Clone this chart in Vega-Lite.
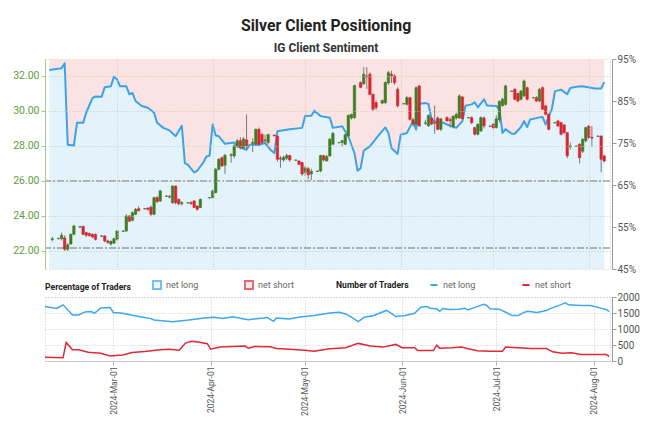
{
  "$schema": "https://vega.github.io/schema/vega-lite/v6.json",
  "background": "white",
  "padding": {"left": 12, "top": 17, "right": 5, "bottom": 0},
  "title": {
    "text": "Silver Client Positioning",
    "subtitle": "IG Client Sentiment",
    "font": "Roboto",
    "fontSize": 15.8,
    "fontWeight": "bold",
    "color": "#222222",
    "subtitleFont": "Roboto",
    "subtitleFontSize": 12,
    "subtitleFontWeight": "bold",
    "subtitleColor": "#333333",
    "subtitlePadding": 8,
    "anchor": "middle",
    "offset": -1
  },
  "config": {
    "font": "Roboto",
    "axis": {"labelFont": "Roboto", "labelFontSize": 10, "labelColor": "#555555", "title": null},
    "legend": {
      "titleFont": "Roboto",
      "titleFontSize": 8.6,
      "titleFontWeight": "bold",
      "titleColor": "#222222",
      "labelFont": "Roboto",
      "labelFontSize": 9,
      "labelColor": "#666666",
      "orient": "top",
      "direction": "horizontal",
      "titleOrient": "left",
      "titlePadding": 20,
      "columnPadding": 42,
      "offset": 4,
      "layout": {"top": {"anchor": "start", "direction": "horizontal", "margin": 42}}
    }
  },
  "spacing": 4,
  "resolve": {"scale": {"color": "independent", "stroke": "independent", "fill": "independent"}, "legend": {"color": "independent", "stroke": "independent", "fill": "independent"}},
  "datasets": {
    "candles": [
      {"d":"2024-02-09","o":22.65,"h":22.8,"l":22.55,"c":22.7},
      {"d":"2024-02-11","o":22.7,"h":22.75,"l":22.66,"c":22.72},
      {"d":"2024-02-12","o":22.7,"h":23.05,"l":22.6,"c":22.9},
      {"d":"2024-02-13","o":22.75,"h":22.9,"l":22.0,"c":22.1},
      {"d":"2024-02-14","o":22.1,"h":22.45,"l":22.0,"c":22.35},
      {"d":"2024-02-15","o":22.4,"h":23.0,"l":22.35,"c":22.95},
      {"d":"2024-02-16","o":22.95,"h":23.5,"l":22.9,"c":23.43},
      {"d":"2024-02-18","o":23.36,"h":23.42,"l":23.32,"c":23.4},
      {"d":"2024-02-19","o":23.4,"h":23.45,"l":22.9,"c":22.95},
      {"d":"2024-02-20","o":23.05,"h":23.1,"l":22.8,"c":22.9},
      {"d":"2024-02-21","o":23.0,"h":23.05,"l":22.82,"c":22.88},
      {"d":"2024-02-22","o":22.95,"h":23.0,"l":22.72,"c":22.8},
      {"d":"2024-02-23","o":22.95,"h":23.0,"l":22.6,"c":22.67},
      {"d":"2024-02-25","o":22.84,"h":22.9,"l":22.8,"c":22.86},
      {"d":"2024-02-26","o":22.86,"h":22.9,"l":22.5,"c":22.57},
      {"d":"2024-02-27","o":22.57,"h":22.65,"l":22.4,"c":22.5},
      {"d":"2024-02-28","o":22.4,"h":22.6,"l":22.3,"c":22.55},
      {"d":"2024-02-29","o":22.45,"h":22.75,"l":22.4,"c":22.7},
      {"d":"2024-03-01","o":22.67,"h":23.2,"l":22.6,"c":23.14},
      {"d":"2024-03-03","o":23.12,"h":23.18,"l":23.08,"c":23.14},
      {"d":"2024-03-04","o":23.14,"h":24.1,"l":23.1,"c":24.0},
      {"d":"2024-03-05","o":24.0,"h":24.05,"l":23.65,"c":23.7},
      {"d":"2024-03-06","o":23.75,"h":24.25,"l":23.7,"c":24.19},
      {"d":"2024-03-07","o":24.1,"h":24.45,"l":24.05,"c":24.38},
      {"d":"2024-03-08","o":24.42,"h":24.55,"l":24.25,"c":24.3},
      {"d":"2024-03-10","o":24.4,"h":24.45,"l":24.38,"c":24.42},
      {"d":"2024-03-11","o":24.45,"h":24.5,"l":24.3,"c":24.38},
      {"d":"2024-03-12","o":24.5,"h":24.6,"l":24.0,"c":24.1},
      {"d":"2024-03-13","o":24.1,"h":25.1,"l":24.05,"c":25.05},
      {"d":"2024-03-14","o":25.05,"h":25.15,"l":24.75,"c":24.82},
      {"d":"2024-03-15","o":24.86,"h":25.5,"l":24.8,"c":25.43},
      {"d":"2024-03-17","o":25.12,"h":25.18,"l":25.1,"c":25.14},
      {"d":"2024-03-18","o":25.12,"h":25.2,"l":25.0,"c":25.08},
      {"d":"2024-03-19","o":24.76,"h":25.75,"l":24.7,"c":25.71},
      {"d":"2024-03-20","o":25.71,"h":25.75,"l":24.65,"c":24.76},
      {"d":"2024-03-21","o":24.95,"h":25.0,"l":24.6,"c":24.7},
      {"d":"2024-03-22","o":24.7,"h":24.85,"l":24.6,"c":24.76},
      {"d":"2024-03-24","o":24.74,"h":24.8,"l":24.72,"c":24.76},
      {"d":"2024-03-25","o":24.76,"h":24.85,"l":24.65,"c":24.7},
      {"d":"2024-03-26","o":24.86,"h":24.9,"l":24.45,"c":24.48},
      {"d":"2024-03-27","o":24.57,"h":24.6,"l":24.3,"c":24.38},
      {"d":"2024-03-28","o":24.48,"h":25.0,"l":24.45,"c":24.95},
      {"d":"2024-03-31","o":25.03,"h":25.08,"l":25.0,"c":25.05},
      {"d":"2024-04-01","o":25.05,"h":25.5,"l":25.0,"c":25.43},
      {"d":"2024-04-02","o":25.33,"h":26.75,"l":25.3,"c":26.67},
      {"d":"2024-04-03","o":26.67,"h":27.3,"l":26.6,"c":27.24},
      {"d":"2024-04-04","o":27.33,"h":27.4,"l":26.8,"c":26.86},
      {"d":"2024-04-05","o":26.9,"h":27.55,"l":26.4,"c":27.47},
      {"d":"2024-04-07","o":27.45,"h":27.6,"l":27.05,"c":27.5},
      {"d":"2024-04-08","o":27.43,"h":28.1,"l":27.3,"c":28.0},
      {"d":"2024-04-09","o":28.0,"h":28.4,"l":27.9,"c":28.3},
      {"d":"2024-04-10","o":28.3,"h":28.5,"l":27.8,"c":27.9},
      {"d":"2024-04-11","o":27.9,"h":28.5,"l":27.8,"c":28.4},
      {"d":"2024-04-12","o":28.35,"h":29.8,"l":27.8,"c":28.0},
      {"d":"2024-04-14","o":28.15,"h":28.45,"l":27.65,"c":28.2},
      {"d":"2024-04-15","o":28.1,"h":29.0,"l":28.05,"c":28.95},
      {"d":"2024-04-16","o":28.95,"h":29.05,"l":28.0,"c":28.1},
      {"d":"2024-04-17","o":28.65,"h":28.75,"l":28.1,"c":28.2},
      {"d":"2024-04-18","o":28.3,"h":28.65,"l":28.1,"c":28.35},
      {"d":"2024-04-19","o":28.2,"h":28.7,"l":28.1,"c":28.65},
      {"d":"2024-04-21","o":28.62,"h":28.65,"l":28.55,"c":28.58},
      {"d":"2024-04-22","o":28.57,"h":28.6,"l":27.1,"c":27.24},
      {"d":"2024-04-23","o":27.3,"h":27.43,"l":26.76,"c":27.25},
      {"d":"2024-04-24","o":27.2,"h":27.45,"l":27.1,"c":27.35},
      {"d":"2024-04-25","o":27.3,"h":27.55,"l":27.2,"c":27.45},
      {"d":"2024-04-26","o":27.45,"h":27.5,"l":27.1,"c":27.2},
      {"d":"2024-04-28","o":27.18,"h":27.22,"l":27.15,"c":27.2},
      {"d":"2024-04-29","o":27.14,"h":27.2,"l":26.9,"c":26.95},
      {"d":"2024-04-30","o":27.05,"h":27.1,"l":26.29,"c":26.4},
      {"d":"2024-05-01","o":26.5,"h":26.85,"l":26.3,"c":26.75},
      {"d":"2024-05-02","o":26.7,"h":26.8,"l":26.1,"c":26.35},
      {"d":"2024-05-03","o":26.4,"h":26.7,"l":26.05,"c":26.55},
      {"d":"2024-05-05","o":26.55,"h":26.6,"l":26.5,"c":26.57},
      {"d":"2024-05-06","o":26.57,"h":27.5,"l":26.5,"c":27.45},
      {"d":"2024-05-07","o":27.45,"h":27.5,"l":27.1,"c":27.2},
      {"d":"2024-05-08","o":27.15,"h":27.5,"l":27.1,"c":27.4},
      {"d":"2024-05-09","o":27.43,"h":28.45,"l":27.4,"c":28.38},
      {"d":"2024-05-10","o":28.1,"h":28.8,"l":28.05,"c":28.72},
      {"d":"2024-05-12","o":28.18,"h":28.22,"l":28.15,"c":28.2},
      {"d":"2024-05-13","o":28.2,"h":28.35,"l":28.0,"c":28.3},
      {"d":"2024-05-14","o":28.1,"h":28.7,"l":28.05,"c":28.65},
      {"d":"2024-05-15","o":28.57,"h":29.8,"l":28.5,"c":29.75},
      {"d":"2024-05-16","o":29.6,"h":29.85,"l":29.5,"c":29.8},
      {"d":"2024-05-17","o":29.62,"h":31.5,"l":29.55,"c":31.45},
      {"d":"2024-05-19","o":31.62,"h":31.7,"l":31.3,"c":31.35},
      {"d":"2024-05-20","o":31.55,"h":32.5,"l":31.5,"c":32.1},
      {"d":"2024-05-21","o":32.0,"h":32.5,"l":31.25,"c":31.95},
      {"d":"2024-05-22","o":32.1,"h":32.2,"l":30.9,"c":30.95},
      {"d":"2024-05-23","o":30.95,"h":31.0,"l":30.0,"c":30.1},
      {"d":"2024-05-24","o":30.48,"h":30.6,"l":30.05,"c":30.2},
      {"d":"2024-05-26","o":30.45,"h":30.65,"l":30.4,"c":30.6},
      {"d":"2024-05-27","o":30.48,"h":31.7,"l":30.4,"c":31.62},
      {"d":"2024-05-28","o":31.6,"h":32.3,"l":31.5,"c":32.19},
      {"d":"2024-05-29","o":32.1,"h":32.3,"l":31.6,"c":32.0},
      {"d":"2024-05-30","o":32.0,"h":32.1,"l":31.5,"c":31.62},
      {"d":"2024-05-31","o":31.24,"h":31.35,"l":30.2,"c":30.29},
      {"d":"2024-06-02","o":30.4,"h":30.45,"l":30.38,"c":30.42},
      {"d":"2024-06-03","o":30.38,"h":30.85,"l":30.3,"c":30.76},
      {"d":"2024-06-04","o":30.76,"h":30.8,"l":29.45,"c":29.52},
      {"d":"2024-06-05","o":29.5,"h":29.6,"l":29.1,"c":29.25},
      {"d":"2024-06-06","o":29.24,"h":31.4,"l":29.2,"c":31.33},
      {"d":"2024-06-07","o":31.43,"h":31.5,"l":29.1,"c":29.14},
      {"d":"2024-06-09","o":29.3,"h":29.5,"l":29.2,"c":29.32},
      {"d":"2024-06-10","o":29.15,"h":29.8,"l":29.1,"c":29.75},
      {"d":"2024-06-11","o":29.6,"h":29.7,"l":29.2,"c":29.25},
      {"d":"2024-06-12","o":29.3,"h":30.3,"l":28.7,"c":29.35},
      {"d":"2024-06-13","o":29.6,"h":29.7,"l":28.9,"c":28.95},
      {"d":"2024-06-14","o":28.95,"h":29.6,"l":28.85,"c":29.55},
      {"d":"2024-06-16","o":29.62,"h":29.7,"l":29.4,"c":29.43},
      {"d":"2024-06-17","o":29.5,"h":29.62,"l":29.05,"c":29.45},
      {"d":"2024-06-18","o":29.1,"h":29.75,"l":29.0,"c":29.7},
      {"d":"2024-06-19","o":29.6,"h":29.9,"l":29.5,"c":29.8},
      {"d":"2024-06-20","o":29.6,"h":30.95,"l":29.55,"c":30.86},
      {"d":"2024-06-21","o":30.8,"h":30.85,"l":29.5,"c":29.55},
      {"d":"2024-06-23","o":29.6,"h":29.65,"l":29.58,"c":29.62},
      {"d":"2024-06-24","o":29.62,"h":29.7,"l":29.25,"c":29.33},
      {"d":"2024-06-25","o":29.05,"h":29.1,"l":28.6,"c":28.67},
      {"d":"2024-06-26","o":28.67,"h":29.3,"l":28.6,"c":29.24},
      {"d":"2024-06-27","o":28.86,"h":29.7,"l":28.8,"c":29.62},
      {"d":"2024-06-28","o":29.6,"h":29.7,"l":29.0,"c":29.15},
      {"d":"2024-06-30","o":29.12,"h":29.18,"l":29.1,"c":29.14},
      {"d":"2024-07-01","o":29.24,"h":29.3,"l":28.95,"c":29.05},
      {"d":"2024-07-02","o":29.05,"h":29.75,"l":29.0,"c":29.55},
      {"d":"2024-07-03","o":29.5,"h":30.6,"l":29.35,"c":30.55},
      {"d":"2024-07-04","o":30.3,"h":30.75,"l":30.25,"c":30.67},
      {"d":"2024-07-05","o":30.38,"h":31.5,"l":30.3,"c":31.43},
      {"d":"2024-07-07","o":31.12,"h":31.16,"l":31.1,"c":31.14},
      {"d":"2024-07-08","o":31.24,"h":31.3,"l":30.6,"c":30.67},
      {"d":"2024-07-09","o":31.0,"h":31.05,"l":30.5,"c":30.57},
      {"d":"2024-07-10","o":30.67,"h":31.2,"l":30.6,"c":31.14},
      {"d":"2024-07-11","o":30.86,"h":31.8,"l":30.8,"c":31.71},
      {"d":"2024-07-12","o":31.33,"h":31.4,"l":30.6,"c":30.67},
      {"d":"2024-07-14","o":30.74,"h":30.78,"l":30.72,"c":30.76},
      {"d":"2024-07-15","o":30.76,"h":30.85,"l":30.5,"c":30.57},
      {"d":"2024-07-16","o":30.57,"h":31.3,"l":30.5,"c":31.24},
      {"d":"2024-07-17","o":31.33,"h":31.4,"l":30.05,"c":30.1},
      {"d":"2024-07-18","o":30.29,"h":30.35,"l":29.75,"c":29.81},
      {"d":"2024-07-19","o":29.81,"h":29.85,"l":28.9,"c":28.95},
      {"d":"2024-07-21","o":29.31,"h":29.35,"l":29.3,"c":29.33},
      {"d":"2024-07-22","o":29.43,"h":29.5,"l":29.1,"c":29.14},
      {"d":"2024-07-23","o":29.33,"h":29.4,"l":28.6,"c":28.67},
      {"d":"2024-07-24","o":29.2,"h":29.25,"l":28.7,"c":28.76},
      {"d":"2024-07-25","o":28.76,"h":28.8,"l":27.3,"c":27.43},
      {"d":"2024-07-26","o":27.95,"h":28.2,"l":27.8,"c":28.0},
      {"d":"2024-07-28","o":27.98,"h":28.02,"l":27.96,"c":28.0},
      {"d":"2024-07-29","o":28.1,"h":28.15,"l":27.0,"c":27.33},
      {"d":"2024-07-30","o":27.7,"h":28.45,"l":27.6,"c":28.38},
      {"d":"2024-07-31","o":28.29,"h":29.1,"l":28.2,"c":29.05},
      {"d":"2024-08-01","o":29.14,"h":29.2,"l":28.4,"c":28.48},
      {"d":"2024-08-02","o":28.5,"h":29.14,"l":27.95,"c":28.45},
      {"d":"2024-08-04","o":28.55,"h":28.6,"l":28.52,"c":28.57},
      {"d":"2024-08-05","o":28.57,"h":28.6,"l":26.5,"c":27.24},
      {"d":"2024-08-06","o":27.43,"h":27.5,"l":27.05,"c":27.14}
    ],
    "pct": [
      {"d":"2024-02-08","p":92.4},{"d":"2024-02-12","p":92.8},{"d":"2024-02-13","p":94.0},{"d":"2024-02-14","p":74.6},
      {"d":"2024-02-16","p":74.4},{"d":"2024-02-17","p":79.8},{"d":"2024-02-19","p":79.8},{"d":"2024-02-20","p":82.2},
      {"d":"2024-02-22","p":85.7},{"d":"2024-02-23","p":86.1},{"d":"2024-02-25","p":86.0},{"d":"2024-02-26","p":88.3},
      {"d":"2024-02-28","p":88.5},{"d":"2024-02-29","p":90.8},{"d":"2024-03-01","p":90.1},{"d":"2024-03-02","p":88.5},
      {"d":"2024-03-04","p":88.5},{"d":"2024-03-05","p":86.6},{"d":"2024-03-06","p":86.9},{"d":"2024-03-07","p":85.0},
      {"d":"2024-03-09","p":83.8},{"d":"2024-03-11","p":83.4},{"d":"2024-03-13","p":82.2},{"d":"2024-03-14","p":79.8},
      {"d":"2024-03-16","p":78.6},{"d":"2024-03-18","p":78.0},{"d":"2024-03-20","p":76.6},{"d":"2024-03-22","p":79.1},
      {"d":"2024-03-23","p":70.2},{"d":"2024-03-24","p":69.8},{"d":"2024-03-26","p":68.0},{"d":"2024-03-27","p":68.4},
      {"d":"2024-03-29","p":70.4},{"d":"2024-03-30","p":71.8},{"d":"2024-03-31","p":72.0},{"d":"2024-04-01","p":79.4},
      {"d":"2024-04-02","p":76.8},{"d":"2024-04-03","p":76.6},{"d":"2024-04-05","p":74.8},{"d":"2024-04-08","p":75.1},
      {"d":"2024-04-09","p":74.2},{"d":"2024-04-12","p":73.4},{"d":"2024-04-13","p":74.6},{"d":"2024-04-16","p":74.6},
      {"d":"2024-04-18","p":75.0},{"d":"2024-04-20","p":73.2},{"d":"2024-04-21","p":72.6},{"d":"2024-04-22","p":77.8},
      {"d":"2024-04-26","p":78.3},{"d":"2024-04-30","p":78.6},{"d":"2024-05-01","p":81.4},{"d":"2024-05-03","p":81.5},
      {"d":"2024-05-04","p":82.7},{"d":"2024-05-06","p":81.4},{"d":"2024-05-09","p":81.0},{"d":"2024-05-10","p":78.6},
      {"d":"2024-05-13","p":79.0},{"d":"2024-05-15","p":76.6},{"d":"2024-05-17","p":72.6},{"d":"2024-05-18","p":68.4},
      {"d":"2024-05-19","p":69.0},{"d":"2024-05-20","p":73.2},{"d":"2024-05-22","p":74.2},{"d":"2024-05-25","p":77.0},
      {"d":"2024-05-27","p":78.7},{"d":"2024-05-28","p":77.4},{"d":"2024-05-29","p":73.8},{"d":"2024-05-31","p":72.4},
      {"d":"2024-06-01","p":77.0},{"d":"2024-06-03","p":77.4},{"d":"2024-06-05","p":80.2},{"d":"2024-06-06","p":78.2},
      {"d":"2024-06-07","p":84.3},{"d":"2024-06-09","p":84.5},{"d":"2024-06-10","p":84.3},{"d":"2024-06-11","p":80.6},
      {"d":"2024-06-13","p":79.8},{"d":"2024-06-15","p":79.8},{"d":"2024-06-16","p":79.4},{"d":"2024-06-19","p":78.6},
      {"d":"2024-06-21","p":80.2},{"d":"2024-06-22","p":83.9},{"d":"2024-06-24","p":84.2},{"d":"2024-06-25","p":84.7},
      {"d":"2024-06-26","p":83.5},{"d":"2024-06-28","p":85.4},{"d":"2024-06-29","p":83.9},{"d":"2024-07-02","p":83.8},
      {"d":"2024-07-03","p":83.0},{"d":"2024-07-04","p":77.4},{"d":"2024-07-05","p":78.3},{"d":"2024-07-07","p":77.2},
      {"d":"2024-07-08","p":77.2},{"d":"2024-07-10","p":78.8},{"d":"2024-07-11","p":80.2},{"d":"2024-07-12","p":78.8},
      {"d":"2024-07-13","p":80.6},{"d":"2024-07-16","p":81.1},{"d":"2024-07-17","p":81.2},{"d":"2024-07-18","p":79.4},
      {"d":"2024-07-19","p":81.4},{"d":"2024-07-20","p":83.0},{"d":"2024-07-21","p":87.3},{"d":"2024-07-23","p":87.7},
      {"d":"2024-07-25","p":86.6},{"d":"2024-07-26","p":88.1},{"d":"2024-07-28","p":88.4},{"d":"2024-07-30","p":88.5},
      {"d":"2024-08-03","p":88.0},{"d":"2024-08-05","p":88.0},{"d":"2024-08-06","p":89.5}
    ],
    "traders": [
      {"d":"2024-02-08","s":"net long","n":1705},{"d":"2024-02-12","s":"net long","n":1640},{"d":"2024-02-14","s":"net long","n":1755},
      {"d":"2024-02-17","s":"net long","n":1440},{"d":"2024-02-19","s":"net long","n":1440},{"d":"2024-02-21","s":"net long","n":1535},
      {"d":"2024-02-23","s":"net long","n":1545},{"d":"2024-02-24","s":"net long","n":1490},{"d":"2024-02-26","s":"net long","n":1660},
      {"d":"2024-02-29","s":"net long","n":1670},{"d":"2024-03-01","s":"net long","n":1515},{"d":"2024-03-04","s":"net long","n":1490},
      {"d":"2024-03-07","s":"net long","n":1430},{"d":"2024-03-10","s":"net long","n":1375},{"d":"2024-03-13","s":"net long","n":1325},
      {"d":"2024-03-14","s":"net long","n":1280},{"d":"2024-03-20","s":"net long","n":1230},{"d":"2024-03-25","s":"net long","n":1280},
      {"d":"2024-03-30","s":"net long","n":1345},{"d":"2024-04-02","s":"net long","n":1365},{"d":"2024-04-05","s":"net long","n":1325},
      {"d":"2024-04-08","s":"net long","n":1385},{"d":"2024-04-13","s":"net long","n":1290},{"d":"2024-04-18","s":"net long","n":1345},
      {"d":"2024-04-19","s":"net long","n":1365},{"d":"2024-04-21","s":"net long","n":1240},{"d":"2024-04-22","s":"net long","n":1345},
      {"d":"2024-04-26","s":"net long","n":1310},{"d":"2024-04-29","s":"net long","n":1365},{"d":"2024-05-04","s":"net long","n":1420},
      {"d":"2024-05-09","s":"net long","n":1500},{"d":"2024-05-12","s":"net long","n":1525},{"d":"2024-05-14","s":"net long","n":1470},
      {"d":"2024-05-16","s":"net long","n":1365},{"d":"2024-05-18","s":"net long","n":1230},{"d":"2024-05-20","s":"net long","n":1365},
      {"d":"2024-05-23","s":"net long","n":1420},{"d":"2024-05-27","s":"net long","n":1580},{"d":"2024-05-28","s":"net long","n":1525},
      {"d":"2024-05-30","s":"net long","n":1390},{"d":"2024-06-02","s":"net long","n":1420},{"d":"2024-06-05","s":"net long","n":1490},
      {"d":"2024-06-07","s":"net long","n":1683},{"d":"2024-06-09","s":"net long","n":1700},{"d":"2024-06-10","s":"net long","n":1650},
      {"d":"2024-06-12","s":"net long","n":1630},{"d":"2024-06-13","s":"net long","n":1555},{"d":"2024-06-14","s":"net long","n":1640},
      {"d":"2024-06-16","s":"net long","n":1610},{"d":"2024-06-19","s":"net long","n":1620},{"d":"2024-06-21","s":"net long","n":1650},
      {"d":"2024-06-22","s":"net long","n":1597},{"d":"2024-06-26","s":"net long","n":1737},{"d":"2024-06-27","s":"net long","n":1770},
      {"d":"2024-06-28","s":"net long","n":1737},{"d":"2024-06-29","s":"net long","n":1630},{"d":"2024-07-02","s":"net long","n":1620},
      {"d":"2024-07-04","s":"net long","n":1525},{"d":"2024-07-06","s":"net long","n":1420},{"d":"2024-07-08","s":"net long","n":1420},
      {"d":"2024-07-10","s":"net long","n":1525},{"d":"2024-07-11","s":"net long","n":1555},{"d":"2024-07-14","s":"net long","n":1515},
      {"d":"2024-07-17","s":"net long","n":1580},{"d":"2024-07-18","s":"net long","n":1630},{"d":"2024-07-21","s":"net long","n":1737},
      {"d":"2024-07-23","s":"net long","n":1820},{"d":"2024-07-24","s":"net long","n":1755},{"d":"2024-07-28","s":"net long","n":1737},
      {"d":"2024-07-31","s":"net long","n":1737},{"d":"2024-08-03","s":"net long","n":1660},{"d":"2024-08-05","s":"net long","n":1610},
      {"d":"2024-08-06","s":"net long","n":1545},
      {"d":"2024-02-08","s":"net short","n":117},{"d":"2024-02-14","s":"net short","n":105},{"d":"2024-02-15","s":"net short","n":581},
      {"d":"2024-02-17","s":"net short","n":349},{"d":"2024-02-19","s":"net short","n":349},{"d":"2024-02-22","s":"net short","n":276},
      {"d":"2024-02-26","s":"net short","n":244},{"d":"2024-02-29","s":"net short","n":159},{"d":"2024-03-04","s":"net short","n":191},
      {"d":"2024-03-07","s":"net short","n":265},{"d":"2024-03-11","s":"net short","n":297},{"d":"2024-03-16","s":"net short","n":349},
      {"d":"2024-03-19","s":"net short","n":370},{"d":"2024-03-22","s":"net short","n":339},{"d":"2024-03-24","s":"net short","n":561},
      {"d":"2024-03-26","s":"net short","n":614},{"d":"2024-03-28","s":"net short","n":593},{"d":"2024-03-31","s":"net short","n":540},
      {"d":"2024-04-01","s":"net short","n":370},{"d":"2024-04-04","s":"net short","n":434},{"d":"2024-04-08","s":"net short","n":450},
      {"d":"2024-04-12","s":"net short","n":466},{"d":"2024-04-13","s":"net short","n":402},{"d":"2024-04-15","s":"net short","n":455},
      {"d":"2024-04-20","s":"net short","n":445},{"d":"2024-04-22","s":"net short","n":391},{"d":"2024-04-26","s":"net short","n":370},
      {"d":"2024-05-01","s":"net short","n":339},{"d":"2024-05-04","s":"net short","n":307},{"d":"2024-05-09","s":"net short","n":381},
      {"d":"2024-05-14","s":"net short","n":413},{"d":"2024-05-18","s":"net short","n":550},{"d":"2024-05-22","s":"net short","n":466},
      {"d":"2024-05-26","s":"net short","n":434},{"d":"2024-05-30","s":"net short","n":519},{"d":"2024-06-01","s":"net short","n":413},
      {"d":"2024-06-05","s":"net short","n":413},{"d":"2024-06-06","s":"net short","n":328},{"d":"2024-06-09","s":"net short","n":328},
      {"d":"2024-06-11","s":"net short","n":328},{"d":"2024-06-12","s":"net short","n":497},{"d":"2024-06-13","s":"net short","n":402},
      {"d":"2024-06-17","s":"net short","n":413},{"d":"2024-06-20","s":"net short","n":434},{"d":"2024-06-22","s":"net short","n":381},
      {"d":"2024-06-25","s":"net short","n":318},{"d":"2024-06-29","s":"net short","n":307},{"d":"2024-07-03","s":"net short","n":307},
      {"d":"2024-07-04","s":"net short","n":434},{"d":"2024-07-08","s":"net short","n":413},{"d":"2024-07-12","s":"net short","n":391},
      {"d":"2024-07-17","s":"net short","n":391},{"d":"2024-07-19","s":"net short","n":286},{"d":"2024-07-22","s":"net short","n":244},
      {"d":"2024-07-25","s":"net short","n":254},{"d":"2024-07-28","s":"net short","n":201},{"d":"2024-08-05","s":"net short","n":201},
      {"d":"2024-08-06","s":"net short","n":149}
    ],
    "keys": [{"k":"pct long"},{"k":"pct short"}],
    "levels": [{"v":1}]
  },
  "vconcat": [
    {
      "width": 565,
      "height": 210,
      "view": {"stroke": "#c8c8c8", "strokeDash": [1, 2]},
      "layer": [
        {
          "layer": [
            {"data": {"name": "pct"},
             "mark": {"type": "area", "color": "#fbe3e4", "clip": true},
             "encoding": {
              "x": {"field": "d", "type": "temporal",
                "scale": {"type": "utc", "domain": ["2024-02-08T06:00:00Z", "2024-08-06T06:00:00Z"]},
                "axis": {"labels": false, "ticks": false, "domain": false, "grid": true, "gridColor": "#c8c8c8", "gridDash": [1, 2], "zindex": 1,
                  "values": [{"year":2024,"month":3,"date":1,"utc":true},{"year":2024,"month":4,"date":1,"utc":true},{"year":2024,"month":5,"date":1,"utc":true},{"year":2024,"month":6,"date":1,"utc":true},{"year":2024,"month":7,"date":1,"utc":true},{"year":2024,"month":8,"date":1,"utc":true}]}},
              "y": {"field": "p", "type": "quantitative", "scale": {"domain": [45, 95], "nice": false, "zero": false},
                "axis": {"orient": "right", "values": [45,50,55,60,65,70,75,80,85,90,95], "labelExpr": "datum.value + '%'", "grid": false, "tickColor": "#999999", "domainColor": "#999999", "tickSize": 4, "offset": 2, "labelPadding": 1, "labelColor": "#555555"}},
              "y2": {"datum": 95}}},
            {"data": {"name": "pct"},
             "mark": {"type": "area", "color": "#e4f2fc", "clip": true},
             "encoding": {"x": {"field": "d", "type": "temporal"}, "y": {"field": "p", "type": "quantitative"}, "y2": {"datum": 45}}},
            {"data": {"name": "levels"},
             "mark": {"type": "rule", "color": "#6e6e6e", "strokeDash": [7, 2, 2, 2], "strokeWidth": 1.2},
             "encoding": {"y": {"datum": 50, "type": "quantitative"}}},
            {"data": {"name": "pct"},
             "mark": {"type": "line", "color": "#3aa3e8", "strokeWidth": 2, "clip": true, "strokeJoin": "round"},
             "encoding": {"x": {"field": "d", "type": "temporal"}, "y": {"field": "p", "type": "quantitative"}}}
          ]
        },
        {
          "layer": [
            {"data": {"name": "levels"},
             "mark": {"type": "rule", "color": "#6e6e6e", "strokeDash": [7, 2, 2, 2], "strokeWidth": 1.2},
             "encoding": {"y": {"datum": 26, "type": "quantitative", "scale": {"domain": [20.97, 32.97], "nice": false, "zero": false},
               "axis": {"orient": "left", "values": [22,24,26,28,30,32], "format": ".2f", "labelColor": "#5e9c3a", "labelFontSize": 10.5, "domainColor": "#a8c98c", "tickColor": "#a8c98c", "tickSize": 4, "grid": true, "gridColor": "#bfd0a8", "gridDash": [1, 2], "zindex": 1}}}},
            {"data": {"name": "candles"},
             "mark": {"type": "rule", "color": "#7a7a7a", "strokeWidth": 1, "clip": true},
             "encoding": {"x": {"field": "d", "type": "temporal"}, "y": {"field": "l", "type": "quantitative"}, "y2": {"field": "h"}}},
            {"data": {"name": "candles"},
             "mark": {"type": "bar", "width": 2.4, "strokeWidth": 0.6, "clip": true},
             "encoding": {"x": {"field": "d", "type": "temporal"}, "y": {"field": "o", "type": "quantitative"}, "y2": {"field": "c"},
               "color": {"condition": {"test": "datum.c >= datum.o", "value": "#3f7d22"}, "value": "#d7262e"},
               "stroke": {"condition": {"test": "datum.c >= datum.o", "value": "#3f7d22"}, "value": "#d7262e"}}}
          ]
        }
      ],
      "resolve": {"scale": {"y": "independent"}}
    },
    {
      "width": 565,
      "height": 64,
      "view": {"stroke": "#c8c8c8", "strokeDash": [1, 2]},
      "layer": [
        {
          "data": {"name": "keys"},
          "transform": [{"filter": "false"}],
          "mark": {"type": "square", "filled": true},
          "encoding": {
            "fill": {"field": "k", "type": "nominal",
              "scale": {"domain": ["pct long", "pct short"], "range": ["#e4f2fc", "#fbe3e4"]},
              "legend": {"title": "Percentage of Traders", "symbolType": "square", "symbolSize": 64, "symbolStrokeWidth": 2,
                "labelExpr": "datum.value === 'pct long' ? 'net long' : 'net short'"}},
            "stroke": {"field": "k", "type": "nominal",
              "scale": {"domain": ["pct long", "pct short"], "range": ["#3da8ee", "#e0283a"]},
              "legend": {"title": "Percentage of Traders", "symbolType": "square", "symbolSize": 64, "symbolStrokeWidth": 2,
                "labelExpr": "datum.value === 'pct long' ? 'net long' : 'net short'"}}
          }
        },
        {
          "data": {"name": "traders"},
          "mark": {"type": "line", "strokeWidth": 1.5, "clip": true},
          "encoding": {
            "x": {"field": "d", "type": "temporal",
              "scale": {"type": "utc", "domain": ["2024-02-08T06:00:00Z", "2024-08-06T06:00:00Z"]},
              "axis": {"labelExpr": "utcFormat(datum.value, '%Y-%b-%d')", "labelAngle": 270, "labelColor": "#555555", "labelFontSize": 8.5, "labelPadding": 1, "tickColor": "#aaaaaa", "tickSize": 4, "domainColor": "#cccccc", "grid": true, "gridColor": "#c8c8c8", "gridDash": [1, 2],
                "values": [{"year":2024,"month":3,"date":1,"utc":true},{"year":2024,"month":4,"date":1,"utc":true},{"year":2024,"month":5,"date":1,"utc":true},{"year":2024,"month":6,"date":1,"utc":true},{"year":2024,"month":7,"date":1,"utc":true},{"year":2024,"month":8,"date":1,"utc":true}]}},
            "y": {"field": "n", "type": "quantitative", "scale": {"domain": [0, 2000], "nice": false},
              "axis": {"orient": "right", "values": [0, 500, 1000, 1500, 2000], "format": "d", "tickColor": "#999999", "domainColor": "#999999", "tickSize": 4, "offset": 2, "labelPadding": 1, "grid": true, "gridColor": "#c8c8c8", "gridDash": [1, 2], "labelColor": "#555555"}},
            "color": {"field": "s", "type": "nominal",
              "scale": {"domain": ["net long", "net short"], "range": ["#3da8ee", "#e0283a"]},
              "legend": {"title": "Number of Traders", "symbolType": "stroke", "symbolStrokeWidth": 2, "symbolSize": 50}}
          }
        }
      ]
    }
  ]
}
